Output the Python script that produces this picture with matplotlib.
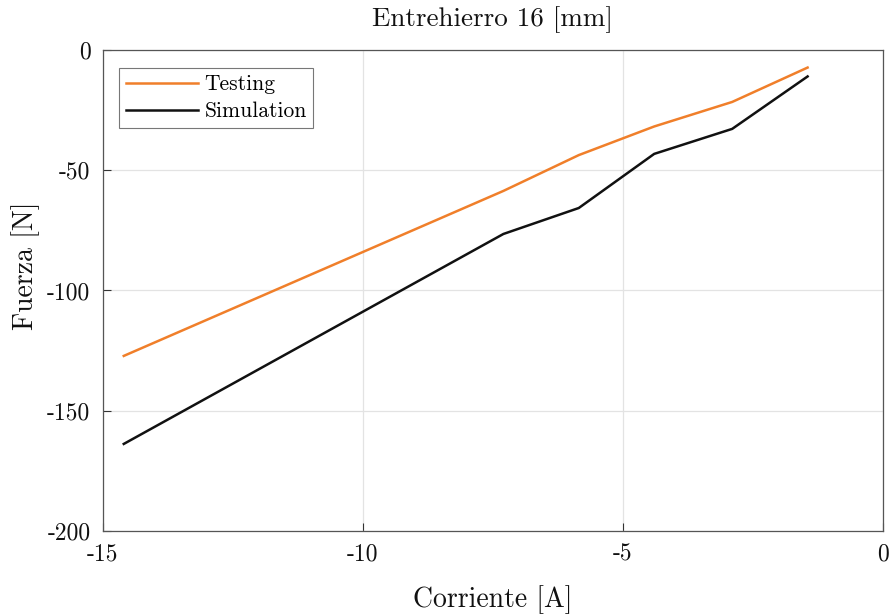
import matplotlib
matplotlib.use("Agg")
import matplotlib.pyplot as plt

plt.rcParams["font.family"] = ["cmr10", "DejaVu Serif"]
plt.rcParams["mathtext.fontset"] = "cm"
plt.rcParams["axes.unicode_minus"] = False
plt.rcParams["axes.formatter.use_mathtext"] = True

corriente = [-14.6, -7.3, -5.85, -4.4, -2.9, -1.45]
testing = [-127.2, -58.6, -43.7, -31.8, -21.6, -7.3]
simulation = [-163.8, -76.5, -65.7, -43.2, -32.8, -11.0]

x_ticks = [-15, -10, -5, 0]
y_ticks = [-200, -150, -100, -50, 0]

fig = plt.figure(figsize=(8.93, 6.15), dpi=100)
ax = fig.add_axes([0.1153, 0.1366, 0.8735, 0.7821])

ax.plot(corriente, testing, color="#f07f2a", lw=1.8, label="Testing")
ax.plot(corriente, simulation, color="#111111", lw=1.8, label="Simulation")

ax.set_xlim(-15, 0)
ax.set_ylim(-200, 0)
ax.set_xticks(x_ticks)
ax.set_yticks(y_ticks)
ax.set_xticklabels([str(v) for v in x_ticks])
ax.set_yticklabels([str(v) for v in y_ticks])

ax.grid(True, color="#e3e3e3", lw=0.9)
ax.set_axisbelow(True)
ax.tick_params(direction="in", length=6, width=0.8, colors="#333333",
               labelcolor="#111111", labelsize=17, top=False, right=False, pad=9)
for s in ax.spines.values():
    s.set_color("#555555")
    s.set_linewidth(0.9)

ax.set_title("Entrehierro 16 [mm]", fontsize=19.5, pad=17, color="#111111")
ax.set_xlabel("Corriente [A]", fontsize=20, labelpad=14, color="#111111")
ax.set_ylabel("Fuerza [N]", fontsize=20, color="#111111")
ax.yaxis.set_label_coords(-0.081, 0.551)

leg = ax.legend(loc="upper left", fontsize=15.5, frameon=True, fancybox=False,
                edgecolor="#555555", handlelength=3.35, borderpad=0.3,
                labelspacing=0.35, handletextpad=0.3, borderaxespad=0,
                bbox_to_anchor=(0.021, 0.962))
leg.get_frame().set_linewidth(0.8)

fig.savefig("out.png", dpi=100)
